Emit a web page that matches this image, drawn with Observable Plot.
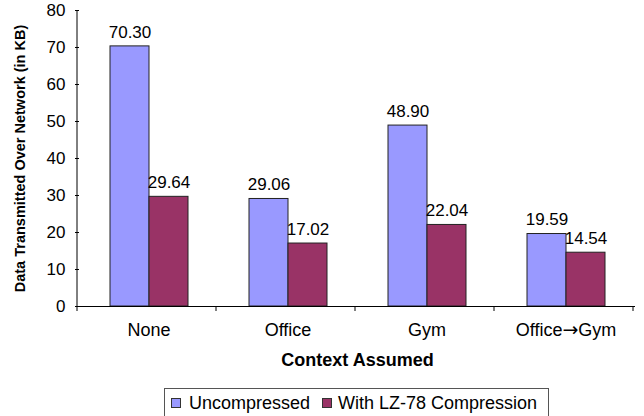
<!DOCTYPE html>
<html><head><meta charset="utf-8">
<script src="https://cdn.jsdelivr.net/npm/d3@7"></script>
<script src="https://cdn.jsdelivr.net/npm/@observablehq/plot@0.6"></script>
<style>
body{margin:0;background:#fff;font-family:"Liberation Sans",Arial,sans-serif;}
#wrap{position:relative;width:644px;height:416px;overflow:hidden;}
#legend{position:absolute;left:164px;top:388px;width:385px;height:30px;border:1px solid #555;box-sizing:border-box;font-size:18px;color:#000;background:#fff;white-space:nowrap;}
#legend span{position:absolute;}
.sw{width:8px;height:8px;border:1px solid #333;top:9px;}
.lt{top:4px;line-height:20px;}
</style></head>
<body><div id="wrap"></div>
<script>
const categories = ["None", "Office", "Gym", "Office→Gym"];
const series = ["Uncompressed", "With LZ-78 Compression"];
const uncompressed = [70.30, 29.06, 48.90, 19.59];
const compressed = [29.64, 17.02, 22.04, 14.54];
const colors = ["#9999FF", "#993366"];
const yTicks = [0, 10, 20, 30, 40, 50, 60, 70, 80];

const data = categories.flatMap((c, i) => [
  {context: c, series: series[0], value: uncompressed[i]},
  {context: c, series: series[1], value: compressed[i]}
]);

const chart = Plot.plot({
  width: 644, height: 416,
  marginLeft: 77, marginRight: 8, marginTop: 10, marginBottom: 110,
  style: {fontFamily: '"Liberation Sans", Arial, sans-serif', fontSize: "17px", color: "#000", background: "#fff"},
  fx: {domain: categories, padding: 0},
  x: {domain: series, paddingInner: 0, paddingOuter: 0.747, axis: null},
  y: {domain: [0, 80]},
  color: {domain: series, range: colors},
  marks: [
    Plot.barY(data, {fx: "context", x: "series", y: "value", fill: "series", stroke: "#222", strokeWidth: 1}),
    Plot.text(data, {fx: "context", x: "series", y: "value", text: d => d.value.toFixed(2), dy: -14, fontSize: 17, fill: "#000"}),
    Plot.ruleY([0], {stroke: "#000"}),
    Plot.axisY({ticks: yTicks, tickSize: 4, tickPadding: 10, fontSize: 17, label: "Data Transmitted Over Network (in KB)", labelAnchor: "center", labelOffset: 65, labelArrow: "none"}),
    Plot.axisFx({anchor: "bottom", tickSize: 0, tickPadding: 17, fontSize: 18, label: "Context Assumed", labelAnchor: "center", labelOffset: 59, labelArrow: "none"})
  ]
});

document.getElementById("wrap").appendChild(chart);

const svg = d3.select(chart);
// bold axis titles
svg.selectAll('g[aria-label="y-axis label"] text').attr("font-weight", "bold").attr("font-size", 14.5);
svg.selectAll('g[aria-label="fx-axis label"] text').attr("font-weight", "bold").attr("font-size", 18);

// wider arrow glyph in the category labels
svg.selectAll('g[aria-label="fx-axis tick label"] text').each(function () {
  const s = this.textContent;
  if (!s.includes("→")) return;
  const [a, b] = s.split("→");
  const t = d3.select(this).text("");
  t.append("tspan").text(a);
  t.append("tspan").attr("font-family", "DejaVu Sans").attr("font-size", 19).text("→");
  t.append("tspan").text(b);
});

// axis line and category boundary ticks from Plot's own scales
const fx = chart.scale("fx");
const y = chart.scale("y");
const y0 = y.apply(0), y80 = y.apply(80);
const g = svg.append("g").attr("stroke", "#000");
g.append("line").attr("x1", fx.range[0]).attr("x2", fx.range[0]).attr("y1", y80).attr("y2", y0);
for (let i = 0; i <= categories.length; i++) {
  const x = fx.range[0] + i * fx.step;
  g.append("line").attr("x1", x).attr("x2", x).attr("y1", y0).attr("y2", y0 + 5);
}

// legend
const leg = document.createElement("div");
leg.id = "legend";
const swX = [6, 157], txX = [24, 173];
series.forEach((s, i) => {
  const sw = document.createElement("span");
  sw.className = "sw";
  sw.style.background = colors[i];
  sw.style.left = swX[i] + "px";
  leg.appendChild(sw);
  const t = document.createElement("span");
  t.className = "lt";
  t.style.left = txX[i] + "px";
  t.textContent = s;
  leg.appendChild(t);
});
document.getElementById("wrap").appendChild(leg);
</script>
</body></html>
